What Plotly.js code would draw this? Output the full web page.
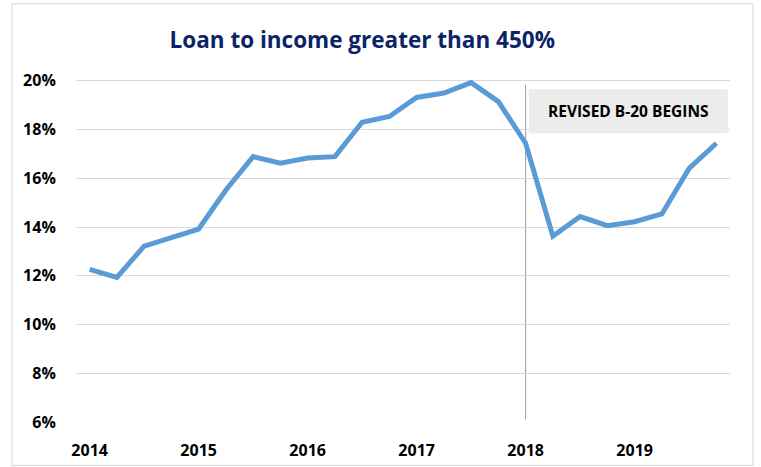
<!DOCTYPE html>
<html><head><meta charset="utf-8">
<script src="https://cdn.plot.ly/plotly-3.0.1.min.js"></script>
<style>html,body{margin:0;padding:0;background:#fff;}#chart{width:761px;height:467px;}</style>
</head><body><div id="chart"></div>
<script>
const quarters = ["2014Q1","2014Q2","2014Q3","2014Q4","2015Q1","2015Q2","2015Q3","2015Q4",
  "2016Q1","2016Q2","2016Q3","2016Q4","2017Q1","2017Q2","2017Q3","2017Q4",
  "2018Q1","2018Q2","2018Q3","2018Q4","2019Q1","2019Q2","2019Q3","2019Q4"];
const shareLTI = [12.26,11.93,13.22,13.56,13.92,15.52,16.89,16.62,16.83,16.89,18.30,18.54,
  19.32,19.50,19.93,19.15,17.44,13.63,14.43,14.06,14.22,14.54,16.41,17.44];
const yearTickVals = ["2014Q1","2015Q1","2016Q1","2017Q1","2018Q1","2019Q1"];
const yearTickText = ["2014","2015","2016","2017","2018","2019"];
const yTickVals = [6,8,10,12,14,16,18,20];
const yTickText = ["6%","8%","10%","12%","14%","16%","18%","20%"];
const titleText = "Loan to income greater than 450%";
const noteText = "REVISED B-20 BEGINS";
const policyQuarter = "2018Q1";

const F = "'Open Sans', sans-serif";
const trace = {x: quarters, y: shareLTI, type: "scatter", mode: "lines",
  line: {color: "#5b9bd5", width: 5}, hoverinfo: "skip"};

const layout = {
  width: 761, height: 467,
  margin: {l: 76, r: 31, t: 76, b: 45, pad: 0},
  paper_bgcolor: "#fff", plot_bgcolor: "#fff",
  showlegend: false,
  title: {text: titleText, font: {family: F, size: 22.5, color: "#0b2466", weight: "bold"},
    xref: "container", yref: "container", x: 0.476, y: 0.914, xanchor: "center", yanchor: "middle"},
  xaxis: {type: "category", range: [-0.5, 23.5], tickmode: "array", tickvals: yearTickVals,
    ticktext: yearTickText, showgrid: false, zeroline: false, showline: false,
    ticks: "outside", ticklen: 14, tickcolor: "rgba(0,0,0,0)",
    tickfont: {family: F, size: 16, color: "#000", weight: "bold"}},
  yaxis: {range: [6, 20.2], tickmode: "array", tickvals: yTickVals, ticktext: yTickText,
    showgrid: true, gridcolor: "#d9d9d9", gridwidth: 1, zeroline: false, showline: false,
    ticks: "outside", ticklen: 16, tickcolor: "rgba(0,0,0,0)",
    tickfont: {family: F, size: 16, color: "#000", weight: "bold"}},
  shapes: [
    {type: "rect", xref: "paper", yref: "paper", x0: -0.0979, x1: 1.035, y0: -0.1253, y1: 1.2086,
      line: {color: "#d4d4d4", width: 1}, fillcolor: "rgba(0,0,0,0)", layer: "below"},
    {type: "line", xref: "x", yref: "y", x0: policyQuarter, x1: policyQuarter, y0: 6.11, y1: 19.84,
      line: {color: "#9a9a9a", width: 1}, layer: "below"},
    {type: "rect", xref: "x", yref: "y", x0: 16.12, x1: 23.42, y0: 17.85, y1: 19.66,
      line: {width: 0}, fillcolor: "#ececec", layer: "above"}
  ],
  annotations: [
    {text: noteText, xref: "x", yref: "y", x: 19.77, y: 18.75, showarrow: false,
      xanchor: "center", yanchor: "middle",
      font: {family: F, size: 15.5, color: "#000", weight: "bold"}}
  ]
};
Plotly.newPlot("chart", [trace], layout, {displayModeBar: false, staticPlot: true});
</script></body></html>
